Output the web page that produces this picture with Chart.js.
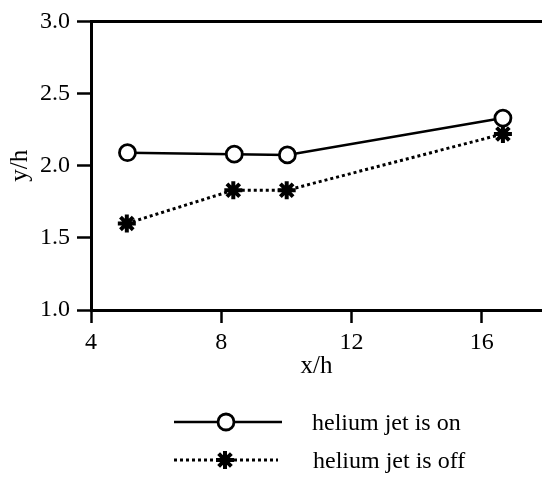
<!DOCTYPE html>
<html>
<head>
<meta charset="utf-8">
<script src="https://cdn.jsdelivr.net/npm/chart.js@4.4.1/dist/chart.umd.min.js"></script>
<style>
  body { margin: 0; background: #fff; }
  #wrap { width: 542px; height: 482px; }
</style>
</head>
<body>
<div id="wrap"><canvas id="myChart" width="542" height="482"></canvas></div>
<script>
// data
var xTicks = [4, 8, 12, 16];
var yTicks = [1.0, 1.5, 2.0, 2.5, 3.0];

var xOn = [5.12, 8.4, 10.03, 16.65];
var yOn = [2.09, 2.08, 2.075, 2.33];

var xOff = [5.1, 8.37, 10.01, 16.65];
var yOff = [1.60, 1.83, 1.83, 2.22];

var labelOn = 'helium jet is on';
var labelOff = 'helium jet is off';

var serif = '"Liberation Serif", "Times New Roman", serif';

function toPoints(xs, ys) {
  return xs.map(function(x, i) { return { x: x, y: ys[i] }; });
}

// top frame line + legend under the plot
const framePlugin = {
  id: 'frame',
  afterDraw: function(chart) {
    const ctx = chart.ctx;
    const area = chart.chartArea;
    ctx.save();
    ctx.strokeStyle = '#000';
    ctx.lineWidth = 3;
    ctx.beginPath();
    ctx.moveTo(area.left - 1, area.top);
    ctx.lineTo(chart.width, area.top);
    ctx.stroke();

    // legend
    const items = [
      { ds: chart.data.datasets[0], y: 422, x0: 174, x1: 282, px: 226, tx: 312, ty: 430 },
      { ds: chart.data.datasets[1], y: 460, x0: 174, x1: 278, px: 225, tx: 313, ty: 468 }
    ];
    items.forEach(function(it) {
      ctx.save();
      ctx.strokeStyle = '#000';
      ctx.lineWidth = it.ds.borderWidth;
      ctx.setLineDash(it.ds.borderDash || []);
      ctx.beginPath();
      ctx.moveTo(it.x0, it.y);
      ctx.lineTo(it.x1, it.y);
      ctx.stroke();
      ctx.restore();

      ctx.save();
      ctx.fillStyle = it.ds.pointBackgroundColor;
      ctx.strokeStyle = it.ds.pointBorderColor;
      ctx.lineWidth = it.ds.pointBorderWidth;
      Chart.helpers.drawPoint(ctx, {
        pointStyle: it.ds.pointStyle,
        radius: it.ds.pointRadius,
        borderWidth: it.ds.pointBorderWidth,
        rotation: 0
      }, it.px, it.y);
      ctx.restore();

      ctx.fillStyle = '#000';
      ctx.font = '24px ' + serif;
      ctx.textBaseline = 'alphabetic';
      ctx.fillText(it.ds.label, it.tx, it.ty);
    });
    ctx.restore();
  }
};

const ctx = document.getElementById('myChart').getContext('2d');
new Chart(ctx, {
  type: 'line',
  data: {
    datasets: [{
      label: labelOn,
      data: toPoints(xOn, yOn),
      borderColor: '#000',
      borderWidth: 2.5,
      pointStyle: 'circle',
      pointRadius: 8,
      pointBorderWidth: 2.8,
      pointBackgroundColor: '#fff',
      pointBorderColor: '#000',
      tension: 0
    }, {
      label: labelOff,
      data: toPoints(xOff, yOff),
      borderColor: '#000',
      borderWidth: 3,
      borderDash: [3, 3],
      pointStyle: 'star',
      pointRadius: 9,
      pointBorderWidth: 4,
      pointBackgroundColor: '#000',
      pointBorderColor: '#000',
      tension: 0
    }]
  },
  options: {
    responsive: false,
    animation: false,
    layout: {
      autoPadding: false,
      padding: { top: 18, right: 0, left: 0, bottom: 101 }
    },
    plugins: {
      legend: { display: false },
      tooltip: { enabled: false }
    },
    scales: {
      x: {
        type: 'linear',
        min: 4,
        max: 17.85,
        afterBuildTicks: function(scale) {
          scale.ticks = xTicks.map(function(v) { return { value: v }; });
        },
        afterFit: function(scale) {
          scale.height = 71;
          scale.paddingLeft = 0;
          scale.paddingRight = 0;
        },
        grid: {
          drawOnChartArea: false,
          drawTicks: true,
          tickLength: 13,
          tickWidth: 2.5,
          tickColor: '#000'
        },
        border: { color: '#000', width: 3 },
        ticks: {
          color: '#000',
          padding: 5,
          maxRotation: 0,
          font: { family: serif, size: 24 }
        },
        title: {
          display: true,
          text: 'x/h',
          color: '#000',
          padding: 0,
          font: { family: serif, size: 25 }
        }
      },
      y: {
        type: 'linear',
        min: 1,
        max: 3,
        afterBuildTicks: function(scale) {
          scale.ticks = yTicks.map(function(v) { return { value: v }; });
        },
        afterFit: function(scale) { scale.width = 91; },
        grid: {
          drawOnChartArea: false,
          drawTicks: true,
          tickLength: 14,
          tickWidth: 2.5,
          tickColor: '#000'
        },
        border: { color: '#000', width: 3 },
        ticks: {
          color: '#000',
          padding: 7,
          font: { family: serif, size: 24 },
          callback: function(v) { return v.toFixed(1); }
        },
        title: {
          display: true,
          text: 'y/h',
          color: '#000',
          padding: { top: 5, bottom: 0 },
          font: { family: serif, size: 25 }
        }
      }
    }
  },
  plugins: [framePlugin]
});
</script>
</body>
</html>
